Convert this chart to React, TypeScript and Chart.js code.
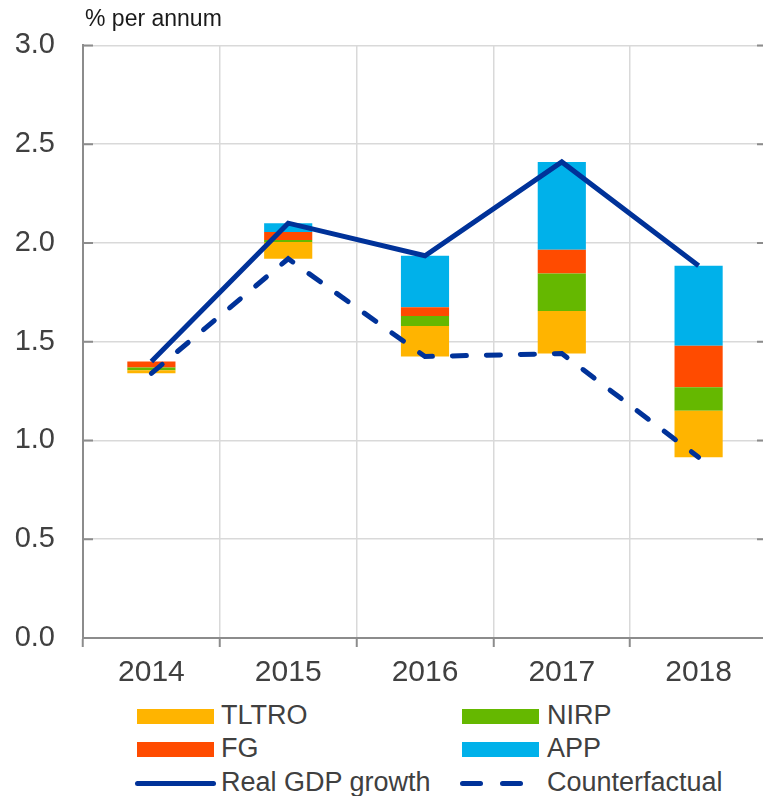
import React, { useEffect, useRef } from "react";
import { Chart, registerables } from "chart.js";

Chart.register(...registerables);

// ---- data ----
const years = ["2014", "2015", "2016", "2017", "2018"];
const counterfactual = [1.34, 1.92, 1.425, 1.44, 0.915];
const tltro = [0.015, 0.085, 0.155, 0.215, 0.235];
const nirp = [0.015, 0.01, 0.05, 0.19, 0.12];
const fg = [0.03, 0.04, 0.045, 0.12, 0.21];
const app = [0.0, 0.045, 0.26, 0.445, 0.405];
const realGdp = [1.4, 2.1, 1.935, 2.41, 1.885];
const yTickValues = [0, 0.5, 1, 1.5, 2, 2.5, 3];

const C_TLTRO = "#ffb400";
const C_NIRP = "#65b800";
const C_FG = "#ff4b00";
const C_APP = "#00b1ea";
const C_LINE = "#003299";
const TEXT = "#404040";
const FONT = "'Liberation Sans', Arial, sans-serif";

const layers = [tltro, nirp, fg, app];
function floatingSeries(layerIndex: number): [number, number][] {
  return counterfactual.map((base, i) => {
    let start = base;
    for (let k = 0; k < layerIndex; k++) start += layers[k][i];
    return [start, start + layers[layerIndex][i]];
  });
}

const innerTicks = {
  id: "innerTicks",
  beforeDatasetsDraw(chart: any) {
    const { ctx, chartArea, scales } = chart;
    const y = scales.y;
    ctx.save();
    ctx.strokeStyle = "#8c8c8c";
    ctx.lineWidth = 2;
    yTickValues.forEach((v) => {
      const py = y.getPixelForValue(v);
      ctx.beginPath();
      ctx.moveTo(chartArea.left, py);
      ctx.lineTo(chartArea.left + 10, py);
      ctx.moveTo(chartArea.right, py);
      ctx.lineTo(chartArea.right - 10, py);
      ctx.stroke();
    });
    ctx.restore();
  },
};

const CANVAS_W = 767;
const CANVAS_H = 700;

export default function App() {
  const ref = useRef<HTMLCanvasElement>(null);

  useEffect(() => {
    if (!ref.current) return;
    const barCommon = {
      type: "bar" as const,
      grouped: false,
      categoryPercentage: 1,
      barPercentage: 0.352,
      borderWidth: 0,
      order: 2,
    };
    const chart = new Chart(ref.current, {
      type: "bar",
      data: {
        labels: years,
        datasets: [
          { ...barCommon, label: "TLTRO", data: floatingSeries(0), backgroundColor: C_TLTRO },
          { ...barCommon, label: "NIRP", data: floatingSeries(1), backgroundColor: C_NIRP },
          { ...barCommon, label: "FG", data: floatingSeries(2), backgroundColor: C_FG },
          { ...barCommon, label: "APP", data: floatingSeries(3), backgroundColor: C_APP },
          {
            type: "line",
            label: "Real GDP growth",
            data: realGdp,
            borderColor: C_LINE,
            backgroundColor: C_LINE,
            borderWidth: 5,
            pointRadius: 0,
            tension: 0,
            borderJoinStyle: "miter",
            order: 0,
          },
          {
            type: "line",
            label: "Counterfactual",
            data: counterfactual,
            borderColor: C_LINE,
            backgroundColor: C_LINE,
            borderWidth: 5,
            borderDash: [14, 20],
            borderCapStyle: "round",
            pointRadius: 0,
            tension: 0,
            order: 1,
          },
        ] as any,
      },
      options: {
        responsive: false,
        animation: false,
        devicePixelRatio: 1,
        layout: { padding: { top: 42, left: 0, right: 0, bottom: 0 } },
        plugins: {
          legend: { display: false },
          tooltip: { enabled: false },
          title: { display: false },
        },
        scales: {
          x: {
            offset: true,
            grid: {
              offset: true,
              color: "#d9d9d9",
              lineWidth: 1.5,
              drawTicks: true,
              tickLength: 9,
              tickColor: "#8c8c8c",
              tickWidth: 2,
            },
            border: { color: "#8c8c8c", width: 2 },
            ticks: {
              color: TEXT,
              font: { family: FONT, size: 30 },
              padding: 8,
              maxRotation: 0,
            },
            afterFit: (scale: any) => {
              scale.height = CANVAS_H - 638;
            },
          },
          y: {
            min: 0,
            max: 3,
            grid: {
              color: "#d9d9d9",
              lineWidth: 1.5,
              drawTicks: false,
            },
            border: { color: "#8c8c8c", width: 2 },
            ticks: {
              stepSize: 0.5,
              color: TEXT,
              font: { family: FONT, size: 29 },
              padding: 28,
              callback: (v: any) => Number(v).toFixed(1),
            },
            afterFit: (scale: any) => {
              scale.width = 83;
            },
          },
        },
      },
      plugins: [innerTicks],
    });
    return () => chart.destroy();
  }, []);

  const legendText: React.CSSProperties = {
    position: "absolute",
    fontFamily: FONT,
    fontSize: 27,
    lineHeight: "27px",
    color: TEXT,
    whiteSpace: "nowrap",
  };
  const swatch = (left: number, top: number, color: string): React.CSSProperties => ({
    position: "absolute",
    left,
    top,
    width: 77,
    height: 15,
    background: color,
  });

  return (
    <div
      style={{
        position: "absolute",
        left: 0,
        top: 0,
        width: 763,
        height: 796,
        overflow: "hidden",
        background: "#fff",
      }}
    >
      <canvas
        ref={ref}
        width={CANVAS_W}
        height={CANVAS_H}
        style={{ position: "absolute", left: 0, top: 0, width: CANVAS_W, height: CANVAS_H }}
      />
      <div
        style={{
          position: "absolute",
          left: 85,
          top: 7,
          fontFamily: FONT,
          fontSize: 23,
          lineHeight: "23px",
          color: "#1a1a1a",
          whiteSpace: "nowrap",
        }}
      >
        % per annum
      </div>

      {/* legend */}
      <div style={swatch(137, 709, C_TLTRO)} />
      <div style={{ ...legendText, left: 221, top: 702 }}>TLTRO</div>
      <div style={swatch(462, 709, C_NIRP)} />
      <div style={{ ...legendText, left: 547, top: 702 }}>NIRP</div>

      <div style={swatch(137, 742, C_FG)} />
      <div style={{ ...legendText, left: 221, top: 735 }}>FG</div>
      <div style={swatch(462, 742, C_APP)} />
      <div style={{ ...legendText, left: 547, top: 735 }}>APP</div>

      <div
        style={{
          position: "absolute",
          left: 135,
          top: 781,
          width: 81,
          height: 5,
          borderRadius: 3,
          background: C_LINE,
        }}
      />
      <div style={{ ...legendText, left: 221, top: 769 }}>Real GDP growth</div>
      <div
        style={{
          position: "absolute",
          left: 460,
          top: 781,
          width: 23,
          height: 5,
          borderRadius: 3,
          background: C_LINE,
        }}
      />
      <div
        style={{
          position: "absolute",
          left: 500,
          top: 781,
          width: 23,
          height: 5,
          borderRadius: 3,
          background: C_LINE,
        }}
      />
      <div style={{ ...legendText, left: 547, top: 769 }}>Counterfactual</div>
    </div>
  );
}
